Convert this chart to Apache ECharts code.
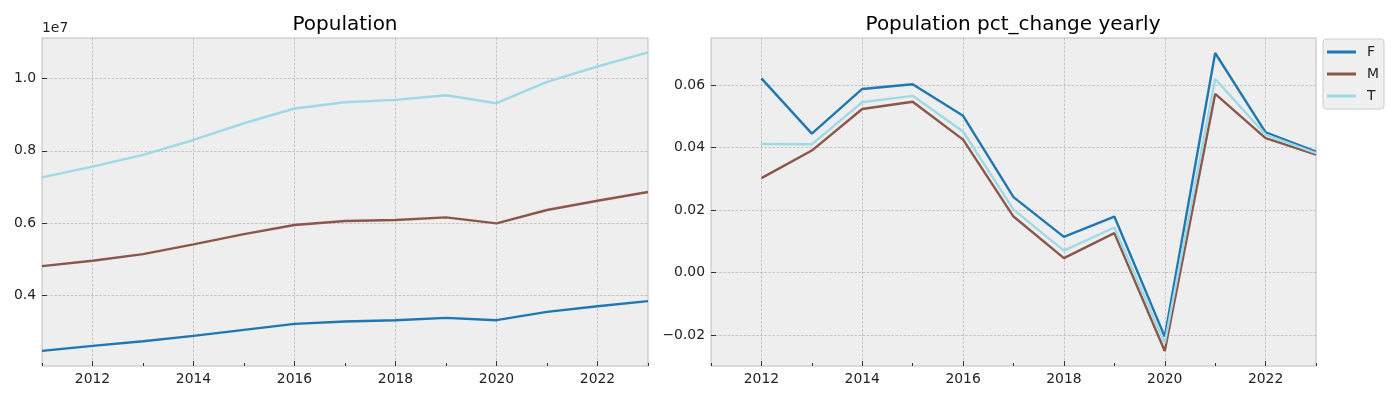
<!DOCTYPE html>
<html lang="en">

<head>
    <meta charset="UTF-8">
    <title>Population</title>
    <script src="https://cdn.jsdelivr.net/npm/echarts@6/dist/echarts.min.js"></script>
</head>

<body style="margin:0;">
    <div id="main" style="width: 1400px;height: 400px;"></div>
    <script>
        var myChart = echarts.init(document.getElementById('main'));

        var years = ['2011', '2012', '2013', '2014', '2015', '2016', '2017',
            '2018', '2019', '2020', '2021', '2022', '2023'];

        // population, raw counts
        var popF = [2468000, 2606000, 2735000, 2883000, 3049000, 3215000, 3280000,
            3317000, 3381000, 3317000, 3548000, 3704000, 3843000];
        var popM = [4812000, 4960000, 5144000, 5412000, 5698000, 5948000, 6058000,
            6086000, 6160000, 5994000, 6363000, 6621000, 6861000];
        var popT = [7267000, 7563000, 7886000, 8300000, 8763000, 9170000, 9345000,
            9410000, 9538000, 9317000, 9908000, 10332000, 10720000];

        // yearly pct change (no value for the first year)
        var pctF = [null, 0.0621, 0.0444, 0.0587, 0.0602, 0.0501, 0.0241,
            0.0114, 0.0179, -0.0205, 0.0702, 0.0448, 0.0387];
        var pctM = [null, 0.0302, 0.0390, 0.0523, 0.0546, 0.0425, 0.0179,
            0.0046, 0.0126, -0.0251, 0.0571, 0.0430, 0.0377];
        var pctT = [null, 0.0411, 0.0410, 0.0545, 0.0565, 0.0451, 0.0201,
            0.0070, 0.0144, -0.0226, 0.0619, 0.0441, 0.0382];

        var popTicks = [4000000, 6000000, 8000000, 10000000];
        var pctTicks = [-0.02, 0, 0.02, 0.04, 0.06];

        var colors = { F: '#1f77b4', M: '#8c564b', T: '#9edae5' };
        var font = 'DejaVu Sans';
        var gridLine = { show: true, lineStyle: { color: '#b2b2b2', width: 0.7, type: [2.5, 1.6] } };

        function isEven(i, v) { return Number(v) % 2 === 0; }
        function isOdd(i, v) { return Number(v) % 2 === 1; }

        function xAxes(gi) {
            return [{
                gridIndex: gi,
                type: 'category',
                data: years,
                boundaryGap: false,
                position: 'bottom',
                axisLine: { show: false, onZero: false },
                axisTick: { show: true, inside: true, length: 5, interval: isEven, lineStyle: { color: '#333' } },
                axisLabel: { interval: isEven, margin: 6, fontSize: 13.9, fontFamily: font, color: '#222' },
                splitLine: Object.assign({ interval: isEven }, gridLine)
            }, {
                gridIndex: gi,
                type: 'category',
                data: years,
                boundaryGap: false,
                position: 'bottom',
                offset: 0,
                axisLine: { show: false, onZero: false },
                axisTick: { show: true, inside: true, length: 3, interval: isOdd, lineStyle: { color: '#333' } },
                axisLabel: { show: false },
                splitLine: { show: false }
            }];
        }

        function lineSeries(name, data, xi, yi) {
            return {
                name: name,
                type: 'line',
                xAxisIndex: xi,
                yAxisIndex: yi,
                data: data,
                symbol: 'none',
                showSymbol: false,
                lineStyle: { width: 2.4, color: colors[name] },
                itemStyle: { color: colors[name] }
            };
        }

        var option = {
            animation: false,
            textStyle: { fontFamily: font },
            title: [{
                text: 'Population',
                left: 345,
                top: 15,
                padding: 0,
                textAlign: 'center',
                textStyle: { fontSize: 20, fontWeight: 'normal', color: '#000', fontFamily: font }
            }, {
                text: 'Population pct_change yearly',
                left: 1013,
                top: 15,
                padding: 0,
                textAlign: 'center',
                textStyle: { fontSize: 20, fontWeight: 'normal', color: '#000', fontFamily: font }
            }],
            graphic: [{
                type: 'text',
                left: 42,
                top: 21,
                style: { text: '1e7', fontSize: 13.9, fontFamily: font, fill: '#222' }
            }],
            legend: {
                data: ['F', 'M', 'T'],
                orient: 'vertical',
                left: 1323,
                top: 39,
                icon: 'rect',
                itemWidth: 29,
                itemHeight: 3,
                itemGap: 8,
                padding: [6, 5, 6, 4],
                backgroundColor: '#f0f0f0',
                borderColor: '#cccccc',
                borderWidth: 1,
                borderRadius: 3,
                textStyle: { fontSize: 13.9, fontFamily: font, color: '#222', padding: [0, 0, 0, 6] }
            },
            grid: [{
                left: 42, right: 752, top: 38, bottom: 34,
                show: true, backgroundColor: '#eeeeee', borderColor: '#bcbcbc', borderWidth: 1
            }, {
                left: 711, right: 84, top: 38, bottom: 34,
                show: true, backgroundColor: '#eeeeee', borderColor: '#bcbcbc', borderWidth: 1
            }],
            xAxis: xAxes(0).concat(xAxes(1)),
            yAxis: [{
                gridIndex: 0,
                type: 'value',
                min: 2050000,
                max: 11120000,
                axisLine: { show: false },
                axisTick: { show: true, inside: true, length: 5, customValues: popTicks, lineStyle: { color: '#333' } },
                axisLabel: {
                    customValues: popTicks, margin: 6, fontSize: 13.9, fontFamily: font, color: '#222',
                    formatter: function (v) { return (v / 1e7).toFixed(1); }
                },
                splitLine: gridLine
            }, {
                gridIndex: 1,
                type: 'value',
                min: -0.0299,
                max: 0.0750,
                axisLine: { show: false },
                axisTick: { show: true, inside: true, length: 5, customValues: pctTicks, lineStyle: { color: '#333' } },
                axisLabel: {
                    customValues: pctTicks, margin: 6, fontSize: 13.9, fontFamily: font, color: '#222',
                    formatter: function (v) { return (v < 0 ? '\u2212' : '') + Math.abs(v).toFixed(2); }
                },
                splitLine: gridLine
            }],
            series: [
                lineSeries('F', popF, 0, 0),
                lineSeries('M', popM, 0, 0),
                lineSeries('T', popT, 0, 0),
                lineSeries('F', pctF, 2, 1),
                lineSeries('M', pctM, 2, 1),
                lineSeries('T', pctT, 2, 1)
            ]
        };

        myChart.setOption(option);
    </script>
</body>

</html>
